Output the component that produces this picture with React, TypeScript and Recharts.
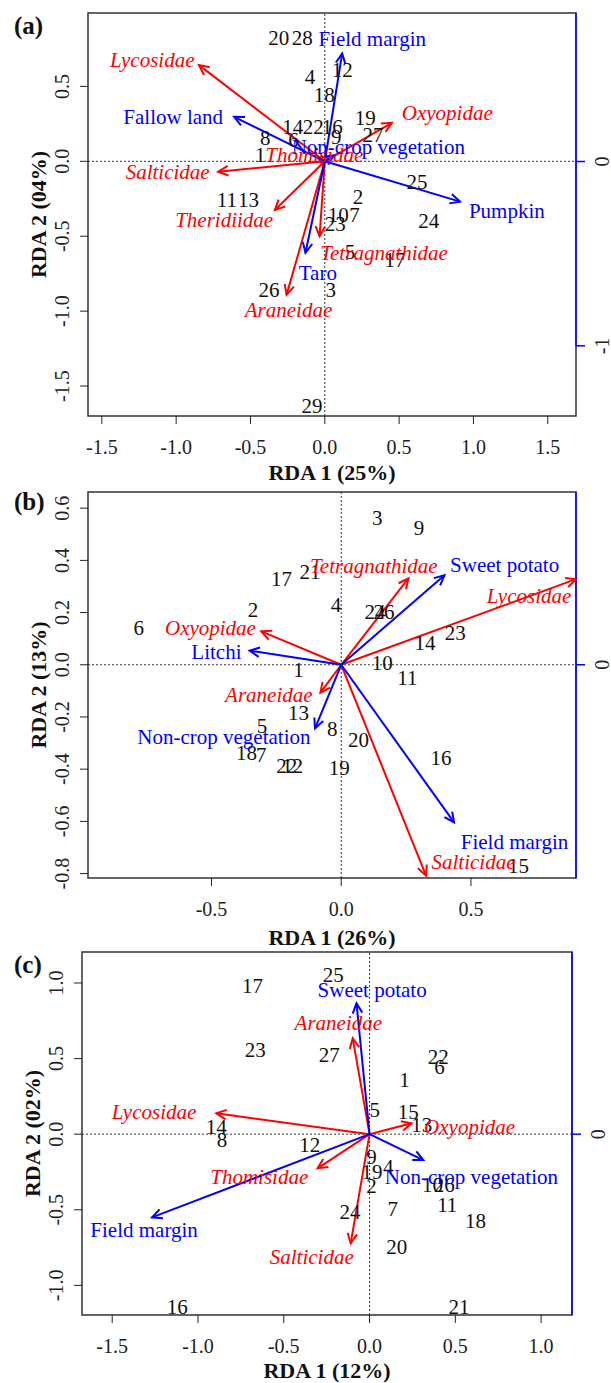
import React from "react";
import { ScatterChart, Scatter, XAxis, YAxis, ReferenceLine, ReferenceArea, Label } from "recharts";

const FONT = '"Liberation Serif", "Times New Roman", Times, serif';
const RED = "#ff0000";
const BLUE = "#0000ff";
const INK = "#222";

// ---------- panel (a)
const sitesA = [
  { id: "1", x: -0.434, y: 0.041 }, { id: "2", x: 0.223, y: -0.236 }, { id: "3", x: 0.04, y: -0.86 },
  { id: "4", x: -0.1, y: 0.564 }, { id: "5", x: 0.17, y: -0.603 }, { id: "6", x: -0.21, y: 0.142 },
  { id: "7", x: 0.2, y: -0.36 }, { id: "8", x: -0.4, y: 0.155 }, { id: "9", x: 0.077, y: 0.162 },
  { id: "10", x: 0.09, y: -0.36 }, { id: "11", x: -0.658, y: -0.258 }, { id: "12", x: 0.118, y: 0.609 },
  { id: "13", x: -0.514, y: -0.258 }, { id: "14", x: -0.215, y: 0.229 }, { id: "16", x: 0.05, y: 0.229 },
  { id: "17", x: 0.473, y: -0.658 }, { id: "18", x: -0.003, y: 0.442 }, { id: "19", x: 0.272, y: 0.289 },
  { id: "20", x: -0.309, y: 0.82 }, { id: "22", x: -0.078, y: 0.229 }, { id: "23", x: 0.07, y: -0.42 },
  { id: "24", x: 0.7, y: -0.4 }, { id: "25", x: 0.621, y: -0.136 }, { id: "26", x: -0.375, y: -0.858 },
  { id: "27", x: 0.325, y: 0.175 }, { id: "28", x: -0.152, y: 0.82 }, { id: "29", x: -0.086, y: -1.636 },
];
const speciesA = [
  { name: "Lycosidae", x: -0.846, y: 0.642, lx: -1.161, ly: 0.676 },
  { name: "Oxyopidae", x: 0.451, y: 0.257, lx: 0.824, ly: 0.322 },
  { name: "Thomisidae", x: -0.05, y: 0.03, lx: -0.071, ly: 0.042 },
  { name: "Salticidae", x: -0.717, y: -0.069, lx: -1.057, ly: -0.069 },
  { name: "Theridiidae", x: -0.336, y: -0.325, lx: -0.677, ly: -0.392 },
  { name: "Tetragnathidae", x: -0.035, y: -0.5, lx: 0.399, ly: -0.614 },
  { name: "Araneidae", x: -0.257, y: -0.891, lx: -0.244, ly: -0.993 },
];
const envA = [
  { name: "Field margin", x: 0.117, y: 0.72, lx: 0.319, ly: 0.814 },
  { name: "Fallow land", x: -0.61, y: 0.297, lx: -1.02, ly: 0.298 },
  { name: "Non-crop vegetation", x: 0.06, y: 0.04, lx: 0.36, ly: 0.097 },
  { name: "Pumpkin", x: 0.91, y: -0.269, lx: 1.225, ly: -0.33 },
  { name: "Taro", x: -0.13, y: -0.61, lx: -0.047, ly: -0.748 },
];
const xTicksA = [-1.5, -1, -0.5, 0, 0.5, 1, 1.5];
const yTicksA = [-1.5, -1, -0.5, 0, 0.5];

// ---------- panel (b)
const sitesB = [
  { id: "1", x: -0.165, y: -0.02 }, { id: "2", x: -0.34, y: 0.21 }, { id: "3", x: 0.139, y: 0.562 },
  { id: "4", x: -0.02, y: 0.23 }, { id: "5", x: -0.305, y: -0.236 }, { id: "6", x: -0.78, y: 0.141 },
  { id: "7", x: -0.308, y: -0.345 }, { id: "8", x: -0.035, y: -0.246 }, { id: "9", x: 0.3, y: 0.524 },
  { id: "10", x: 0.158, y: 0.006 }, { id: "11", x: 0.255, y: -0.051 }, { id: "12", x: -0.188, y: -0.389 },
  { id: "13", x: -0.165, y: -0.185 }, { id: "14", x: 0.323, y: 0.084 }, { id: "15", x: 0.683, y: -0.77 },
  { id: "16", x: 0.385, y: -0.358 }, { id: "17", x: -0.23, y: 0.328 }, { id: "18", x: -0.365, y: -0.338 },
  { id: "19", x: -0.008, y: -0.396 }, { id: "20", x: 0.067, y: -0.287 }, { id: "21", x: -0.12, y: 0.357 },
  { id: "22", x: -0.21, y: -0.389 }, { id: "23", x: 0.44, y: 0.121 }, { id: "24", x: 0.13, y: 0.204 },
  { id: "26", x: 0.165, y: 0.204 },
];
const speciesB = [
  { name: "Tetragnathidae", x: 0.259, y: 0.331, lx: 0.126, ly: 0.379 },
  { name: "Lycosidae", x: 0.905, y: 0.328, lx: 0.724, ly: 0.264 },
  { name: "Oxyopidae", x: -0.308, y: 0.128, lx: -0.504, ly: 0.14 },
  { name: "Araneidae", x: -0.08, y: -0.107, lx: -0.279, ly: -0.116 },
  { name: "Salticidae", x: 0.327, y: -0.808, lx: 0.51, ly: -0.754 },
];
const envB = [
  { name: "Sweet potato", x: 0.398, y: 0.343, lx: 0.63, ly: 0.382 },
  { name: "Litchi", x: -0.353, y: 0.054, lx: -0.481, ly: 0.05 },
  { name: "Non-crop vegetation", x: -0.101, y: -0.244, lx: -0.452, ly: -0.275 },
  { name: "Field margin", x: 0.435, y: -0.604, lx: 0.668, ly: -0.678 },
];
const xTicksB = [-0.5, 0, 0.5];
const yTicksB = [-0.8, -0.6, -0.4, -0.2, 0, 0.2, 0.4, 0.6];

// ---------- panel (c)
const sitesC = [
  { id: "1", x: 0.203, y: 0.358 }, { id: "2", x: 0.012, y: -0.343 }, { id: "4", x: 0.109, y: -0.215 },
  { id: "5", x: 0.031, y: 0.16 }, { id: "6", x: 0.408, y: 0.446 }, { id: "7", x: 0.135, y: -0.497 },
  { id: "8", x: -0.86, y: -0.038 }, { id: "9", x: 0.012, y: -0.149 }, { id: "10", x: 0.367, y: -0.336 },
  { id: "11", x: 0.453, y: -0.468 }, { id: "12", x: -0.348, y: -0.071 }, { id: "13", x: 0.304, y: 0.061 },
  { id: "14", x: -0.893, y: 0.05 }, { id: "15", x: 0.226, y: 0.149 }, { id: "16", x: -1.121, y: -1.141 },
  { id: "17", x: -0.682, y: 0.98 }, { id: "18", x: 0.617, y: -0.572 }, { id: "19", x: 0.015, y: -0.25 },
  { id: "20", x: 0.158, y: -0.744 }, { id: "21", x: 0.521, y: -1.141 }, { id: "22", x: 0.401, y: 0.513 },
  { id: "23", x: -0.666, y: 0.557 }, { id: "24", x: -0.114, y: -0.513 }, { id: "25", x: -0.212, y: 1.053 },
  { id: "26", x: 0.435, y: -0.336 }, { id: "27", x: -0.235, y: 0.524 },
];
const speciesC = [
  { name: "Araneidae", x: -0.098, y: 0.634, lx: -0.182, ly: 0.733 },
  { name: "Lycosidae", x: -0.893, y: 0.138, lx: -1.256, ly: 0.149 },
  { name: "Oxyopidae", x: 0.245, y: 0.072, lx: 0.583, ly: 0.046 },
  { name: "Thomisidae", x: -0.303, y: -0.226, lx: -0.643, ly: -0.281 },
  { name: "Salticidae", x: -0.11, y: -0.722, lx: -0.337, ly: -0.814 },
];
const envC = [
  { name: "Sweet potato", x: -0.076, y: 0.866, lx: 0.015, ly: 0.954 },
  { name: "Non-crop vegetation", x: 0.313, y: -0.171, lx: 0.594, ly: -0.281 },
  { name: "Field margin", x: -1.268, y: -0.55, lx: -1.314, ly: -0.634 },
];
const xTicksC = [-1.5, -1, -0.5, 0, 0.5, 1];
const yTicksC = [-1, -0.5, 0, 0.5, 1];

type Site = { id: string; x: number; y: number };
type Vec = { name: string; x: number; y: number; lx: number; ly: number };

const arrowShape = (color: string) => (p: any) => {
  const x1 = Number(p.x1), y1 = Number(p.y1), x2 = Number(p.x2), y2 = Number(p.y2);
  const a = Math.atan2(y2 - y1, x2 - x1);
  const L = 11, w = 0.45;
  const h1 = `${x2 - L * Math.cos(a - w)},${y2 - L * Math.sin(a - w)}`;
  const h2 = `${x2 - L * Math.cos(a + w)},${y2 - L * Math.sin(a + w)}`;
  return (
    <g>
      <line x1={x1} y1={y1} x2={x2} y2={y2} stroke={color} strokeWidth={2} />
      <polyline points={`${h1} ${x2},${y2} ${h2}`} fill="none" stroke={color} strokeWidth={2} />
    </g>
  );
};

const textShape = (fill: string, italic: boolean) => (p: any) => (
  <text x={p.cx} y={p.cy} textAnchor="middle" dominantBaseline="central" fontFamily={FONT}
    fontSize={21} fontStyle={italic ? "italic" : "normal"} fill={fill}>{p.payload.label}</text>
);

const fmt1 = (v: number) => (Math.abs(v) < 1e-9 ? "0.0" : v.toFixed(1));

type PanelProps = {
  top: number; height: number; box: [number, number, number, number];
  xDomain: [number, number]; yDomain: [number, number]; xTicks: number[]; yTicks: number[];
  topDomain: [number, number]; topTicks: number[]; topLine: [number, number]; topTick: number;
  rightDomain: [number, number]; rightTicks: number[]; rightLine: [number, number];
  xTitle: string; yTitle: string; yTitleX: number; tag: string; tagY: number;
  sites: Site[]; species: Vec[]; env: Vec[];
};

function Panel(p: PanelProps) {
  const [pl, pt, pr, pb] = p.box;
  const ids = { xAxisId: "main", yAxisId: "main" };
  return (
    <div style={{ position: "absolute", left: 0, top: p.top, width: 611, height: p.height }}>
      <ScatterChart width={611} height={p.height} margin={{ top: 0, right: 0, bottom: 0, left: 0 }}>
        <XAxis xAxisId="main" type="number" dataKey="x" domain={p.xDomain} ticks={p.xTicks} allowDataOverflow
          interval={0} axisLine={false} tickLine={{ stroke: INK }} tickSize={8} tickMargin={0}
          height={p.top + p.height - pb}
          tick={(t: any) => (
            <text x={t.x} y={t.y + 30} textAnchor="middle" fontFamily={FONT} fontSize={20} fill={INK}>
              {fmt1(t.payload.value)}
            </text>
          )}>
          <Label value={p.xTitle} position="insideBottom" offset={5} fontFamily={FONT} fontSize={22}
            fontWeight="bold" fill="#111" />
        </XAxis>
        <XAxis xAxisId="top" orientation="top" type="number" domain={p.topDomain} ticks={p.topTicks}
          allowDataOverflow interval={0} axisLine={false} tickLine={{ stroke: BLUE, strokeWidth: 1.5 }}
          tickSize={p.topTick} height={pt - p.top} tick={() => <g />} />
        <YAxis yAxisId="main" type="number" dataKey="y" domain={p.yDomain} ticks={p.yTicks} allowDataOverflow
          interval={0} axisLine={false} tickLine={{ stroke: INK }} tickSize={8} tickMargin={0} width={pl}
          tick={(t: any) => (
            <text x={t.x - 18} y={t.y} transform={`rotate(-90 ${t.x - 18} ${t.y})`} textAnchor="middle"
              dominantBaseline="central" fontFamily={FONT} fontSize={20} fill={INK}>
              {fmt1(t.payload.value)}
            </text>
          )}>
          <Label value={p.yTitle} angle={-90} position="insideLeft" offset={p.yTitleX} textAnchor="middle"
            fontFamily={FONT} fontSize={22} fontWeight="bold" fill="#111" />
        </YAxis>
        <YAxis yAxisId="right" orientation="right" type="number" domain={p.rightDomain} ticks={p.rightTicks}
          allowDataOverflow interval={0} axisLine={false} tickLine={{ stroke: BLUE, strokeWidth: 1.5 }}
          tickSize={9} tickMargin={0} width={611 - pr}
          tick={(t: any) => (
            <text x={t.x + 17} y={t.y} transform={`rotate(-90 ${t.x + 17} ${t.y})`} textAnchor="middle"
              dominantBaseline="central" fontFamily={FONT} fontSize={20} fill={INK}>
              {String(t.payload.value)}
            </text>
          )} />

        <ReferenceArea {...ids} x1={p.xDomain[0]} x2={p.xDomain[1]} y1={p.yDomain[0]} y2={p.yDomain[1]}
          fill="none" fillOpacity={0} stroke="#333" strokeWidth={1.5} ifOverflow="visible" />
        <ReferenceLine {...ids} x={0} stroke="#333" strokeDasharray="2 2" strokeWidth={1} />
        <ReferenceLine {...ids} y={0} stroke="#333" strokeDasharray="2 2" strokeWidth={1} />
        <ReferenceLine xAxisId="top" yAxisId="main" ifOverflow="visible" stroke={BLUE} strokeWidth={1.5}
          segment={[{ x: p.topLine[0], y: p.yDomain[1] }, { x: p.topLine[1], y: p.yDomain[1] }]} />
        <ReferenceLine xAxisId="main" yAxisId="right" ifOverflow="visible" stroke={BLUE} strokeWidth={1.5}
          segment={[{ x: p.xDomain[1], y: p.rightLine[0] }, { x: p.xDomain[1], y: p.rightLine[1] }]} />

        {p.species.map((s) => (
          <ReferenceLine key={"s" + s.name} {...ids} ifOverflow="visible" stroke={RED}
            segment={[{ x: 0, y: 0 }, { x: s.x, y: s.y }]} shape={arrowShape(RED)} />
        ))}
        {p.env.map((e) => (
          <ReferenceLine key={"e" + e.name} {...ids} ifOverflow="visible" stroke={BLUE}
            segment={[{ x: 0, y: 0 }, { x: e.x, y: e.y }]} shape={arrowShape(BLUE)} />
        ))}

        <Scatter {...ids} isAnimationActive={false}
          data={p.sites.map((s) => ({ label: s.id, x: s.x, y: s.y }))} shape={textShape("#111", false)} />
        <Scatter {...ids} isAnimationActive={false}
          data={p.species.map((s) => ({ label: s.name, x: s.lx, y: s.ly }))} shape={textShape(RED, true)} />
        <Scatter {...ids} isAnimationActive={false}
          data={p.env.map((e) => ({ label: e.name, x: e.lx, y: e.ly }))} shape={textShape(BLUE, false)} />
      </ScatterChart>
      <div style={{ position: "absolute", left: 14, top: p.tagY - p.top, transform: "translateY(-50%)",
        fontFamily: FONT, fontSize: 25, fontWeight: "bold", lineHeight: 1, color: "#111" }}>
        {p.tag}
      </div>
    </div>
  );
}

export default function App() {
  return (
    <div style={{ position: "absolute", left: 0, top: 0, width: 611, height: 1383, background: "#fff" }}>
      <Panel top={0} height={485} box={[88, 13, 576, 416]}
        xDomain={[-1.593, 1.69]} yDomain={[-1.7, 0.99]} xTicks={xTicksA} yTicks={yTicksA}
        topDomain={[-1.299, 1.378]} topTicks={[-1, 0, 1]} topLine={[-1, 1]} topTick={12}
        rightDomain={[-1.381, 0.806]} rightTicks={[-1, 0]} rightLine={[-1, 0.806]}
        xTitle="RDA 1 (25%)" yTitle="RDA 2 (04%)" yTitleX={38} tag="(a)" tagY={25}
        sites={sitesA} species={speciesA} env={envA} />
      <Panel top={480} height={470} box={[88, 492, 576, 878]}
        xDomain={[-0.976, 0.905]} yDomain={[-0.817, 0.662]} xTicks={xTicksB} yTicks={yTicksB}
        topDomain={[-1.02, 0.946]} topTicks={[-1, 0]} topLine={[-1.02, 0.946]} topTick={10}
        rightDomain={[-0.817, 0.662]} rightTicks={[0]} rightLine={[-0.817, 0.662]}
        xTitle="RDA 1 (26%)" yTitle="RDA 2 (13%)" yTitleX={38} tag="(b)" tagY={501}
        sites={sitesB} species={speciesB} env={envB} />
      <Panel top={940} height={443} box={[82, 952, 572, 1315]}
        xDomain={[-1.676, 1.18]} yDomain={[-1.196, 1.205]} xTicks={xTicksC} yTicks={yTicksC}
        topDomain={[-1.676, 1.18]} topTicks={[0]} topLine={[-1.676, 1.18]} topTick={10}
        rightDomain={[-1.196, 1.205]} rightTicks={[0]} rightLine={[-1.196, 1.205]}
        xTitle="RDA 1 (12%)" yTitle="RDA 2 (02%)" yTitleX={32} tag="(c)" tagY={964}
        sites={sitesC} species={speciesC} env={envC} />
    </div>
  );
}
